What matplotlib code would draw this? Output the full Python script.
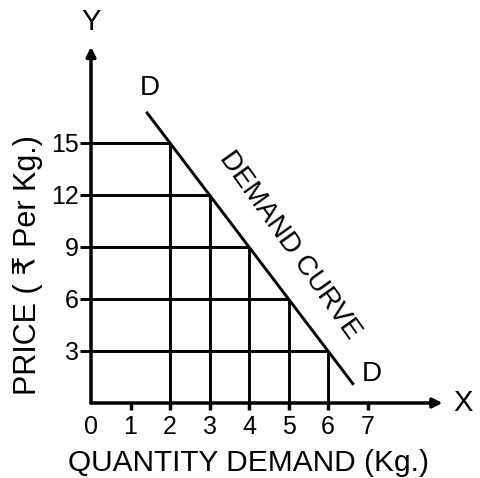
import matplotlib
matplotlib.use("Agg")
import matplotlib.pyplot as plt

# Demand schedule
quantity = [2, 3, 4, 5, 6]
price = [15, 12, 9, 6, 3]

# Ends of the drawn demand line (P = 21 - 3Q)
curve_q = [1.4, 6.65]
curve_p = [16.8, 1.05]

x_ticks = [0, 1, 2, 3, 4, 5, 6, 7]
y_ticks = [3, 6, 9, 12, 15]

FONT = ["Liberation Sans", "DejaVu Sans"]
plt.rcParams["font.family"] = FONT

fig = plt.figure(figsize=(4.8, 4.78), dpi=100)
ax = fig.add_axes([91 / 480, 75 / 478, 355.5 / 480, 364 / 478])
ax.set_xlim(0, 9.0)
ax.set_ylim(0, 21.0)
for s in ax.spines.values():
    s.set_visible(False)

lw_axis = 2.5
lw_grid = 2.1

# Axes with arrow heads
arrow = dict(arrowstyle="-|>", lw=lw_axis, color="black",
             mutation_scale=14, shrinkA=0, shrinkB=0)
ax.annotate("", xy=(8.9, 0), xytext=(0, 0), arrowprops=arrow, annotation_clip=False)
ax.annotate("", xy=(0, 20.55), xytext=(0, 0), arrowprops=arrow, annotation_clip=False)

# Guide lines from each point to the axes
for q, p in zip(quantity, price):
    ax.plot([0, q], [p, p], color="black", lw=lw_grid, solid_capstyle="butt")
    ax.plot([q, q], [0, p], color="black", lw=lw_grid, solid_capstyle="butt")

# Demand line
ax.plot(curve_q, curve_p, color="black", lw=lw_grid, solid_capstyle="butt")

ax.set_xticks(x_ticks)
ax.set_xticklabels([str(t) for t in x_ticks])
ax.set_yticks(y_ticks)
ax.set_yticklabels([str(t) for t in y_ticks])
ax.tick_params(axis="x", length=5, width=lw_axis, pad=4, labelsize=18)
ax.tick_params(axis="y", length=8, width=lw_grid, pad=1, labelsize=18)
ax.xaxis.get_major_ticks()[0].tick1line.set_visible(False)

ax.text(1.5, 18.2, "D", fontsize=20, ha="center", va="center")
ax.text(7.1, 1.7, "D", fontsize=20, ha="center", va="center")
ax.text(5.04, 9.1, "DEMAND CURVE", fontsize=20, rotation=-54.5,
        rotation_mode="anchor", ha="center", va="center")

fig.text(91 / 480, 1 - 22 / 478, "Y", fontsize=21, ha="center", va="center")
fig.text(463 / 480, 1 - 403 / 478, "X", fontsize=21, ha="center", va="center")
fig.text(248 / 480, 1 - 463 / 478, "QUANTITY DEMAND (Kg.)", fontsize=21.5,
         ha="center", va="center")
fig.text(28 / 480, 1 - 265 / 478, "PRICE ( ₹ Per Kg.)", fontsize=22,
         rotation=90, ha="center", va="center")

fig.savefig("out.png", dpi=100)
